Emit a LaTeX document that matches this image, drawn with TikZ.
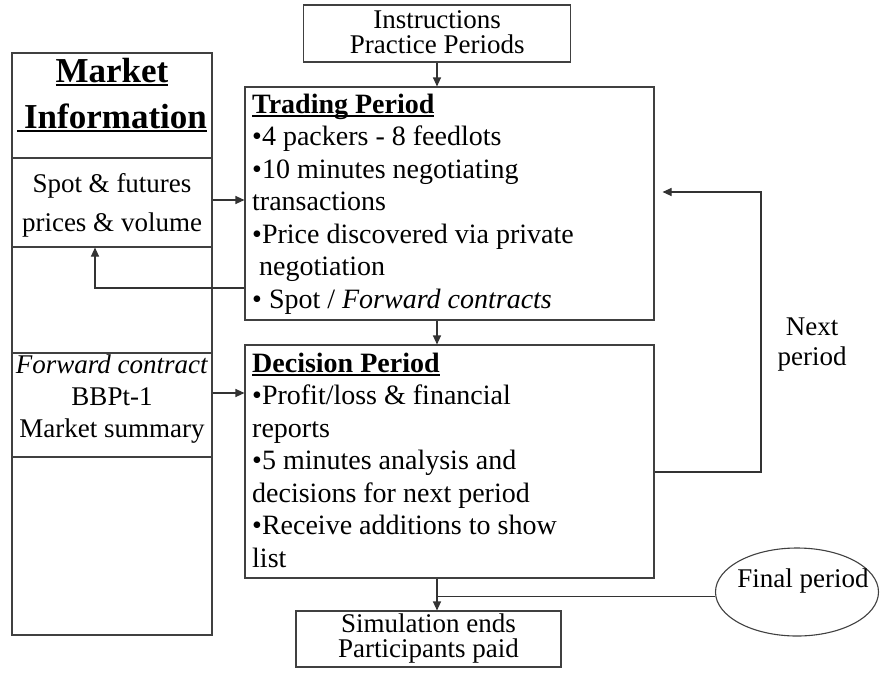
\documentclass[tikz,border=0pt]{standalone}
\usepackage{fontspec}
\setmainfont{Liberation Serif}
\usetikzlibrary{shapes.geometric,arrows.meta}
\newsavebox\ulbox
\newcommand\myul[2][2pt]{\sbox\ulbox{#2}\rlap{\rule[-4pt]{\wd\ulbox}{#1}}\usebox\ulbox}
\newcommand\tstrut[1]{\rule{0pt}{#1}}
\newcommand\fsz{\fontsize{28}{32.5}\selectfont}
\begin{document}
\begin{tikzpicture}[x=1pt,y=-1pt,
  box/.style={draw=black!75, line width=1.1pt, inner sep=0pt},
  arr/.style={draw=black!80, line width=1.1pt, -{Triangle[length=9pt,width=8pt]}},
  ln/.style={draw=black!80, line width=1.1pt},
  txt/.style={inner sep=0pt, font=\fsz}]
\useasboundingbox (0,0) rectangle (880,672);

% boxes
\node[box, minimum width=267pt, minimum height=57pt] (ins) at (437.2,33.5) {};
\node[box, minimum width=200pt, minimum height=582pt] (mkt) at (112,344) {};
\node[box, minimum width=200pt, minimum height=89pt] (spot) at (112,202.5) {};
\node[box, minimum width=200pt, minimum height=104pt] (fwd) at (112,405) {};
\node[box, minimum width=409pt, minimum height=233pt] (trd) at (449.5,203.5) {};
\node[box, minimum width=409pt, minimum height=233pt] (dec) at (449.5,461.5) {};
\node[box, minimum width=265pt, minimum height=56pt] (sim) at (428.5,639) {};
\node[draw=black!75, line width=1.1pt, ellipse, minimum width=163pt, minimum height=88pt, inner sep=0pt] (fin) at (797,592) {};

% texts
\node[txt, anchor=north, align=center, font=\fontsize{27}{25}\selectfont] (instxt) at (437.2,8) {\tstrut{20pt}Instructions\\Practice Periods};
\node[txt, anchor=north, align=center, font=\fontsize{35}{46}\selectfont\bfseries] (mkttxt) at (112,52) {\tstrut{30pt}\myul[2.5pt]{Market}\\\myul[2.5pt]{\hspace{0.2em}Information}};
\node[txt, anchor=north, align=center, font=\fontsize{27}{39}\selectfont] (spottxt) at (112,168.5) {\tstrut{24pt}Spot \& futures\\prices \& volume};
\node[txt, anchor=north, align=center, font=\fontsize{27}{32}\selectfont] (fwdtxt) at (112,349) {\tstrut{24pt}\textit{Forward contract}\\BBPt-1\\Market summary};
\node[txt, anchor=north west, align=left] (trdtxt) at (252,89) {\tstrut{24pt}\myul{\textbf{Trading Period}}\\
  •4 packers - 8 feedlots\\
  •10 minutes negotiating\\
  transactions\\
  •Price discovered via private\\
  \hspace{0.25em}negotiation\\
  • Spot / \textit{Forward contracts}};
\node[txt, anchor=north west, align=left] (dectxt) at (252,348) {\tstrut{24pt}\myul{\textbf{Decision Period}}\\
  •Profit/loss \& financial\\
  reports\\
  •5 minutes analysis and\\
  decisions for next period\\
  •Receive additions to show\\
  list};
\node[txt, anchor=north, align=center, font=\fontsize{27}{25}\selectfont] (simtxt) at (428.5,612) {\tstrut{20pt}Simulation ends\\Participants paid};
\node[txt, anchor=north, align=center, font=\fontsize{27}{30}\selectfont] (nexttxt) at (812,311) {\tstrut{24pt}Next\\period};
\node[txt, anchor=base, font=\fontsize{27}{30}\selectfont] (fintxt) at (803,587) {Final period};

% helper coordinates
\coordinate (ax) at (437,0);
\coordinate (lb) at (95,288);
\coordinate (fa) at (0,393);
\coordinate (lp) at (761,472);
\coordinate (lq) at (761,192);

% connectors
\draw[arr] (ins.south -| ax) -- (trd.north -| ax);
\draw[arr] (trd.south -| ax) -- (dec.north -| ax);
\draw[arr] (dec.south -| ax) -- (sim.north -| ax);
\draw[ln] (fin.183) -- (fin.183 -| ax);
\draw[arr] (spot.east |- 0,200) -- (trd.west |- 0,200);
\draw[arr] (fwd.east |- fa) -- (dec.west |- fa);
\draw[arr] (trd.west |- lb) -- (lb) -- (spot.south -| lb);
\draw[arr, shorten >=8pt] (dec.east |- lp) -- (lp) -- (lq) -- (trd.east |- lq);
\end{tikzpicture}
\end{document}
